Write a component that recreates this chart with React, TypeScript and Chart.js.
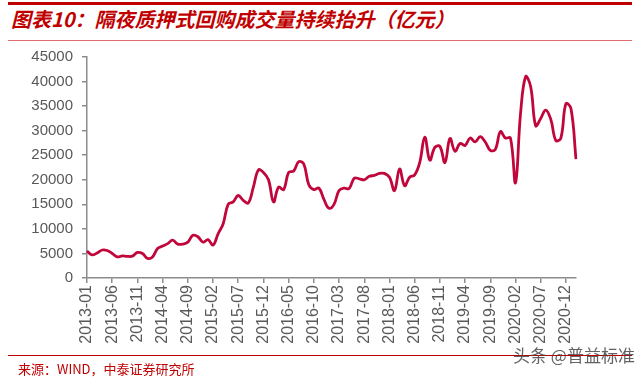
import React, { useEffect, useRef } from "react";
import { Chart, registerables } from "chart.js";

Chart.register(...registerables);

const TITLE = "图表10：隔夜质押式回购成交量持续抬升（亿元）";
const SOURCE = "来源：WIND，中泰证券研究所";
const WATERMARK = "头条 @普益标准";

const START_YEAR = 2013;
const MONTH_COUNT = 98;
const categories: string[] = Array.from({ length: MONTH_COUNT }, (_, i) => {
  const y = START_YEAR + Math.floor(i / 12);
  const m = (i % 12) + 1;
  return `${y}-${m < 10 ? "0" + m : m}`;
});

const volume2013: number[] = [5500, 4700, 5100, 5700, 5600, 5000, 4300, 4500, 4400, 4450, 5200, 5000];
const volume2014: number[] = [4000, 4300, 6000, 6500, 7000, 7700, 6900, 6900, 7300, 8700, 8400, 7300];
const volume2015: number[] = [7800, 6700, 9000, 11000, 15000, 15500, 16800, 15800, 15300, 18500, 22000, 21500];
const volume2016: number[] = [20000, 15500, 18500, 18000, 21500, 21800, 23700, 23200, 19000, 18000, 18300, 16000];
const volume2017: number[] = [14200, 15000, 17800, 18300, 18200, 20300, 20200, 20000, 20700, 20900, 21300, 21300];
const volume2018: number[] = [20500, 17800, 22200, 18800, 20500, 21000, 23500, 28700, 24000, 26600, 26800, 23500];
const volume2019: number[] = [28400, 25800, 27400, 27000, 28500, 27700, 28800, 27700, 26000, 26200, 29800, 28500];
const volume2020: number[] = [28500, 19400, 33500, 41000, 39000, 31000, 32500, 34200, 32300, 28000, 28500, 35500];
const volume2021: number[] = [34500, 24200];

const volume: number[] = [
  ...volume2013, ...volume2014, ...volume2015, ...volume2016, ...volume2017,
  ...volume2018, ...volume2019, ...volume2020, ...volume2021,
];

const Y_MIN = 0;
const Y_MAX = 45000;
const Y_STEP = 5000;
const LABEL_EVERY = 5;

const RED = "#C00000";
const LINE_COLOR = "#C0063B";
const AXIS_COLOR = "#8C8C8C";
const TEXT_COLOR = "#595959";

export default function App() {
  const canvasRef = useRef<HTMLCanvasElement | null>(null);

  useEffect(() => {
    if (!canvasRef.current) return;
    const chart = new Chart(canvasRef.current, {
      type: "line",
      data: {
        labels: categories,
        datasets: [
          {
            data: volume,
            borderColor: LINE_COLOR,
            borderWidth: 2.8,
            pointRadius: 0,
            tension: 0.4,
            fill: false,
          },
        ],
      },
      options: {
        responsive: false,
        animation: false,
        events: [],
        layout: { padding: { left: 0, right: 64, top: 57, bottom: 0 } },
        plugins: { legend: { display: false }, tooltip: { enabled: false }, title: { display: false } },
        scales: {
          x: {
            type: "category",
            offset: false,
            grid: { drawOnChartArea: false, drawTicks: true, tickLength: 5, color: AXIS_COLOR, lineWidth: 1.5 },
            border: { display: true, color: AXIS_COLOR, width: 1.5 },
            ticks: {
              autoSkip: false,
              maxRotation: 90,
              minRotation: 90,
              padding: 2,
              color: TEXT_COLOR,
              font: { family: "'Liberation Sans', Arial, sans-serif", size: 16 },
            },
            afterBuildTicks: (s: any) => {
              s.ticks = s.ticks.filter((t: any) => t.value % LABEL_EVERY === 0);
            },
            afterFit: (s: any) => {
              s.height = 105;
            },
          },
          y: {
            min: Y_MIN,
            max: Y_MAX,
            grid: { drawOnChartArea: false, drawTicks: true, tickLength: 5, color: AXIS_COLOR, lineWidth: 1.5 },
            border: { display: true, color: AXIS_COLOR, width: 1.5 },
            ticks: {
              stepSize: Y_STEP,
              padding: 9,
              color: TEXT_COLOR,
              font: { family: "'Liberation Sans', Arial, sans-serif", size: 15 },
              callback: (v: any) => String(v),
            },
            afterFit: (s: any) => {
              s.width = 87;
            },
          },
        },
      },
    });
    return () => chart.destroy();
  }, []);

  const cjk = "'Noto Sans CJK SC', 'Noto Sans', sans-serif";

  return (
    <div style={{ position: "absolute", left: 0, top: 0, width: 640, height: 383, background: "#fff", overflow: "hidden" }}>
      <div style={{ position: "absolute", left: 8, top: 2, width: 624, height: 3, background: RED }} />
      <div
        style={{
          position: "absolute",
          left: 11,
          top: 6,
          fontFamily: cjk,
          fontSize: 20,
          fontWeight: 700,
          fontStyle: "italic",
          color: RED,
          lineHeight: "26px",
          whiteSpace: "nowrap",
        }}
      >
        {TITLE}
      </div>
      <div style={{ position: "absolute", left: 8, top: 40, width: 624, height: 1, background: "#E07070" }} />
      <canvas ref={canvasRef} width={640} height={383} style={{ position: "absolute", left: 0, top: 0, display: "block" }} />
      <div style={{ position: "absolute", left: 8, top: 355, width: 624, height: 1, background: RED }} />
      <div
        style={{
          position: "absolute",
          left: 18,
          top: 360,
          fontFamily: cjk,
          fontSize: 13,
          color: RED,
          lineHeight: "18px",
          whiteSpace: "nowrap",
        }}
      >
        {SOURCE}
      </div>
      <div
        style={{
          position: "absolute",
          left: 513,
          top: 344,
          fontFamily: cjk,
          fontSize: 17,
          color: "rgba(70,70,70,0.85)",
          lineHeight: "22px",
          whiteSpace: "nowrap",
        }}
      >
        {WATERMARK}
      </div>
    </div>
  );
}
